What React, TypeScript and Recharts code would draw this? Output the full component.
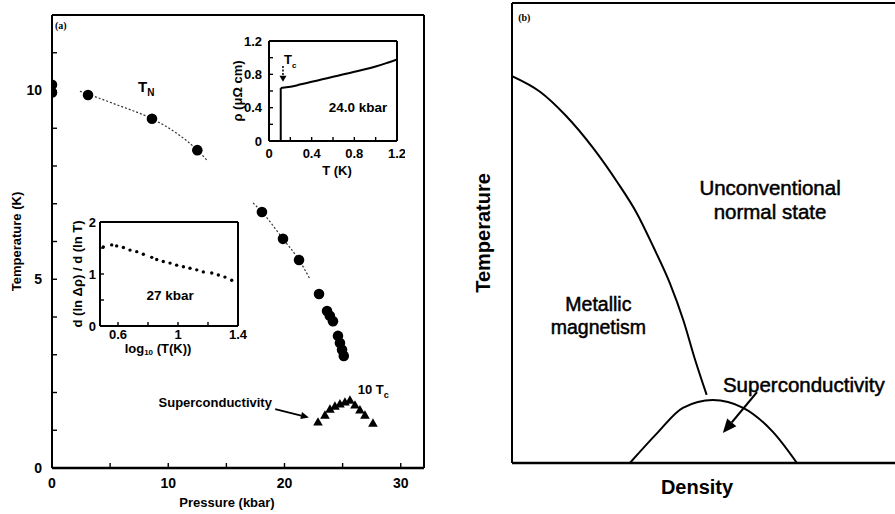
import React from "react";
import {
  ComposedChart,
  Line,
  Scatter,
  XAxis,
  YAxis,
  ReferenceDot,
  ReferenceLine,
} from "recharts";

const SANS = '"Liberation Sans", Arial, Helvetica, sans-serif';
const SERIF = '"Liberation Serif", "Times New Roman", serif';
const INK = "#000";

// ---------------------------------------------------------------------------
// Panel (a): Néel temperature and 10·Tc against pressure
// ---------------------------------------------------------------------------

const pressureTicks = [0, 5, 10, 15, 20, 25, 30];
const pressureLabels = [0, 10, 20, 30];
const tempTicks = [0, 1, 2, 3, 4, 5, 6, 7, 8, 9, 10, 11, 12];
const tempLabels = [0, 5, 10];

const neelPoints = [
  { p: 0, t: 10.15 },
  { p: 0, t: 9.95 },
  { p: 3.1, t: 9.88 },
  { p: 8.6, t: 9.25 },
  { p: 12.5, t: 8.42 },
  { p: 18.06, t: 6.78 },
  { p: 19.87, t: 6.07 },
  { p: 21.25, t: 5.51 },
  { p: 22.97, t: 4.61 },
  { p: 23.66, t: 4.16 },
  { p: 23.9, t: 4.03 },
  { p: 24.17, t: 3.89 },
  { p: 24.6, t: 3.5 },
  { p: 24.77, t: 3.31 },
  { p: 24.95, t: 3.13 },
  { p: 25.1, t: 2.97 },
];

// guide-to-the-eye curves through the T_N points
const neelFitLow = [
  { p: 2.4, t: 9.98 },
  { p: 5.5, t: 9.63 },
  { p: 8.6, t: 9.25 },
  { p: 10.8, t: 8.85 },
  { p: 12.5, t: 8.42 },
  { p: 13.3, t: 8.16 },
];
const neelFitHigh = [
  { p: 17.3, t: 7.02 },
  { p: 18.06, t: 6.78 },
  { p: 19.87, t: 6.07 },
  { p: 21.25, t: 5.51 },
  { p: 22.2, t: 5.0 },
];

const tcPoints = [
  { p: 22.88, t: 1.22 },
  { p: 23.48, t: 1.4 },
  { p: 23.91, t: 1.56 },
  { p: 24.34, t: 1.64 },
  { p: 24.77, t: 1.7 },
  { p: 25.2, t: 1.75 },
  { p: 25.63, t: 1.8 },
  { p: 26.06, t: 1.67 },
  { p: 26.49, t: 1.54 },
  { p: 26.92, t: 1.4 },
  { p: 27.61, t: 1.19 },
];

// ---------------------------------------------------------------------------
// Inset: resistivity at 24.0 kbar
// ---------------------------------------------------------------------------

const rhoTTicks = [0, 0.2, 0.4, 0.6, 0.8, 1.0, 1.2];
const rhoTLabels = [0, 0.4, 0.8, 1.2];
const rhoTicks = [0, 0.2, 0.4, 0.6, 0.8, 1.0, 1.2];
const rhoLabels = [0, 0.4, 0.8, 1.2];

// superconducting drop at Tc
const rhoStep = [
  { T: 0.11, rho: 0 },
  { T: 0.11, rho: 0.635 },
];
const rhoCurve = [
  { T: 0.11, rho: 0.635 },
  { T: 0.2, rho: 0.65 },
  { T: 0.3, rho: 0.68 },
  { T: 0.4, rho: 0.71 },
  { T: 0.5, rho: 0.74 },
  { T: 0.6, rho: 0.77 },
  { T: 0.7, rho: 0.8 },
  { T: 0.8, rho: 0.83 },
  { T: 0.9, rho: 0.86 },
  { T: 1.0, rho: 0.895 },
  { T: 1.1, rho: 0.935 },
  { T: 1.2, rho: 0.98 },
];

// ---------------------------------------------------------------------------
// Inset: logarithmic derivative at 27 kbar
// ---------------------------------------------------------------------------

const logTTicks = [0.6, 0.8, 1.0, 1.2, 1.4];
const logTLabels = [0.6, 1, 1.4];
const slopeTicks = [0, 0.5, 1, 1.5, 2];
const slopeLabels = [0, 1, 2];

const slopePoints = [
  { logT: 0.502, slope: 1.52 },
  { logT: 0.558, slope: 1.56 },
  { logT: 0.591, slope: 1.54 },
  { logT: 0.636, slope: 1.51 },
  { logT: 0.68, slope: 1.46 },
  { logT: 0.725, slope: 1.43 },
  { logT: 0.769, slope: 1.38 },
  { logT: 0.825, slope: 1.32 },
  { logT: 0.858, slope: 1.28 },
  { logT: 0.902, slope: 1.24 },
  { logT: 0.947, slope: 1.21 },
  { logT: 0.991, slope: 1.17 },
  { logT: 1.036, slope: 1.14 },
  { logT: 1.08, slope: 1.11 },
  { logT: 1.125, slope: 1.08 },
  { logT: 1.169, slope: 1.04 },
  { logT: 1.225, slope: 1.02 },
  { logT: 1.269, slope: 0.98 },
  { logT: 1.313, slope: 0.94 },
  { logT: 1.358, slope: 0.88 },
];

// ---------------------------------------------------------------------------
// Panel (b): schematic phase diagram (arbitrary units)
// ---------------------------------------------------------------------------

const magnetismLine = [
  { n: 0, temp: 0.841 },
  { n: 0.073, temp: 0.807 },
  { n: 0.138, temp: 0.757 },
  { n: 0.211, temp: 0.685 },
  { n: 0.273, temp: 0.612 },
  { n: 0.325, temp: 0.543 },
  { n: 0.368, temp: 0.47 },
  { n: 0.411, temp: 0.391 },
  { n: 0.446, temp: 0.311 },
  { n: 0.477, temp: 0.224 },
  { n: 0.507, temp: 0.148 },
];

const scDome = [
  { n: 0.307, temp: 0 },
  { n: 0.378, temp: 0.065 },
  { n: 0.445, temp: 0.12 },
  { n: 0.523, temp: 0.137 },
  { n: 0.602, temp: 0.12 },
  { n: 0.68, temp: 0.067 },
  { n: 0.742, temp: 0 },
];

// ---------------------------------------------------------------------------
// Helpers
// ---------------------------------------------------------------------------

const tickFont = (size: number) => ({
  fontSize: size,
  fontWeight: 700,
  fill: INK,
  fontFamily: SANS,
});

const only = (labels: number[]) => (v: number) =>
  labels.some((l) => Math.abs(l - v) < 1e-9) ? String(v) : "";

const frameLine = { stroke: INK, strokeWidth: 2 };
const tickLine = { stroke: INK, strokeWidth: 1.4 };

// rotated title centred on a Y axis
const yTitle = (dx: number, size: number, body: React.ReactNode) => ({
  content: ({ viewBox }: any) => {
    const x = viewBox.x + dx;
    const y = viewBox.y + viewBox.height / 2;
    return (
      <text
        x={x}
        y={y}
        transform={`rotate(-90 ${x} ${y})`}
        textAnchor="middle"
        dominantBaseline="central"
        fontFamily={SANS}
        fontWeight={700}
        fontSize={size}
        fill={INK}
      >
        {body}
      </text>
    );
  },
});

// title under an X axis
const xTitle = (dy: number, shift: number, size: number, body: React.ReactNode) => ({
  content: ({ viewBox }: any) => (
    <text
      x={viewBox.x + viewBox.width / 2 + shift}
      y={viewBox.y + dy}
      textAnchor="middle"
      dominantBaseline="central"
      fontFamily={SANS}
      fontWeight={700}
      fontSize={size}
      fill={INK}
    >
      {body}
    </text>
  ),
});

// text annotation anchored at a data point
const note =
  (body: React.ReactNode, size: number, anchor = "start", extra: any = {}) =>
  (p: any) =>
    (
      <text
        x={p.cx}
        y={p.cy}
        textAnchor={anchor}
        fontFamily={SANS}
        fontWeight={700}
        fontSize={size}
        fill={INK}
        {...extra}
      >
        {body}
      </text>
    );

// two-line centred label, first baseline at the anchor point
const twoLines =
  (first: string, second: string, size: number, gap: number, extra: any = {}) =>
  (p: any) =>
    (
      <text
        x={p.cx}
        y={p.cy}
        textAnchor="middle"
        fontFamily={SANS}
        fontSize={size}
        fill={INK}
        {...extra}
      >
        <tspan x={p.cx}>{first}</tspan>
        <tspan x={p.cx} dy={gap}>
          {second}
        </tspan>
      </text>
    );

// straight arrow with a filled head
const arrow =
  (len: number, half: number, width: number, dash?: string) => (p: any) => {
    const { x1, y1, x2, y2 } = p;
    const a = Math.atan2(y2 - y1, x2 - x1);
    const bx = x2 - len * Math.cos(a);
    const by = y2 - len * Math.sin(a);
    const ox = half * Math.sin(a);
    const oy = -half * Math.cos(a);
    return (
      <g>
        <line
          x1={x1}
          y1={y1}
          x2={bx}
          y2={by}
          stroke={INK}
          strokeWidth={width}
          strokeDasharray={dash}
        />
        <polygon
          points={`${x2},${y2} ${bx + ox},${by + oy} ${bx - ox},${by - oy}`}
          fill={INK}
        />
      </g>
    );
  };

const dotShape = (r: number) => (p: any) =>
  <circle cx={p.cx} cy={p.cy} r={r} fill={INK} />;

const triangleShape = (p: any) => {
  const s = 4.8;
  return (
    <polygon
      points={`${p.cx},${p.cy - s} ${p.cx - s},${p.cy + s * 0.75} ${p.cx + s},${p.cy + s * 0.75}`}
      fill={INK}
    />
  );
};

// ---------------------------------------------------------------------------
// Panels
// ---------------------------------------------------------------------------

function PressurePanel() {
  return (
    <ComposedChart width={450} height={514} margin={{ top: 14, right: 25, bottom: 0, left: 0 }}>
      <XAxis
        type="number"
        dataKey="p"
        domain={[0, 32]}
        ticks={pressureTicks}
        interval={0}
        allowDataOverflow
        tickFormatter={only(pressureLabels)}
        tick={tickFont(14)}
        tickSize={-5}
        tickMargin={15}
        height={46}
        axisLine={{ stroke: INK, strokeWidth: 2.6 }}
        tickLine={tickLine}
        label={xTitle(34, -11, 13, "Pressure (kbar)")}
      />
      <XAxis
        xAxisId="top"
        orientation="top"
        type="number"
        domain={[0, 32]}
        ticks={pressureTicks}
        interval={0}
        allowDataOverflow
        tick={false}
        tickSize={-5}
        height={1}
        axisLine={frameLine}
        tickLine={tickLine}
      />
      <YAxis
        type="number"
        dataKey="t"
        domain={[0, 12]}
        ticks={tempTicks}
        interval={0}
        allowDataOverflow
        tickFormatter={only(tempLabels)}
        tick={tickFont(14)}
        tickSize={-5}
        tickMargin={15}
        width={52}
        axisLine={frameLine}
        tickLine={tickLine}
        label={yTitle(16, 13, "Temperature (K)")}
      />
      <YAxis
        yAxisId="right"
        orientation="right"
        type="number"
        domain={[0, 12]}
        ticks={tempTicks}
        interval={0}
        allowDataOverflow
        tick={false}
        tickSize={-5}
        width={1}
        axisLine={frameLine}
        tickLine={tickLine}
      />

      <Line
        data={neelFitLow}
        dataKey="t"
        type="monotone"
        stroke="#333"
        strokeWidth={1.2}
        strokeDasharray="2 2"
        dot={false}
        activeDot={false}
        isAnimationActive={false}
      />
      <Line
        data={neelFitHigh}
        dataKey="t"
        type="monotone"
        stroke="#333"
        strokeWidth={1.2}
        strokeDasharray="2 2"
        dot={false}
        activeDot={false}
        isAnimationActive={false}
      />
      <Scatter data={neelPoints} shape={dotShape(5.3)} isAnimationActive={false} />
      <Scatter data={tcPoints} shape={triangleShape} isAnimationActive={false} />

      <ReferenceDot
        x={0.26}
        y={11.63}
        shape={note("(a)", 10, "start", { fontFamily: SERIF })}
      />
      <ReferenceDot
        x={7.4}
        y={9.96}
        shape={note(
          <>
            <tspan>T</tspan>
            <tspan dy={4} fontSize={10}>N</tspan>
          </>,
          15
        )}
      />
      <ReferenceDot
        x={26.3}
        y={1.96}
        shape={note(
          <>
            <tspan>10 T</tspan>
            <tspan dy={4} fontSize={9}>c</tspan>
          </>,
          13
        )}
      />
      <ReferenceDot x={18.92} y={1.62} shape={note("Superconductivity", 13, "end")} />
      <ReferenceLine
        segment={[
          { x: 19.2, y: 1.56 },
          { x: 22.1, y: 1.34 },
        ]}
        shape={arrow(8, 3.5, 1.8)}
      />
    </ComposedChart>
  );
}

function ResistivityInset() {
  return (
    <ComposedChart width={180} height={152} margin={{ top: 9, right: 7, bottom: 0, left: 0 }}>
      <XAxis
        type="number"
        dataKey="T"
        domain={[0, 1.2]}
        ticks={rhoTTicks}
        interval={0}
        allowDataOverflow
        tickFormatter={only(rhoTLabels)}
        tick={tickFont(13)}
        tickSize={-4}
        tickMargin={12}
        height={42}
        axisLine={frameLine}
        tickLine={tickLine}
        label={xTitle(29, 4, 13, "T (K)")}
      />
      <XAxis
        xAxisId="top"
        orientation="top"
        type="number"
        domain={[0, 1.2]}
        ticks={rhoTTicks}
        interval={0}
        allowDataOverflow
        tick={false}
        tickSize={-4}
        height={1}
        axisLine={frameLine}
        tickLine={tickLine}
      />
      <YAxis
        type="number"
        dataKey="rho"
        domain={[0, 1.2]}
        ticks={rhoTicks}
        interval={0}
        allowDataOverflow
        tickFormatter={only(rhoLabels)}
        tick={tickFont(13)}
        tickSize={-4}
        tickMargin={11}
        width={44}
        axisLine={frameLine}
        tickLine={tickLine}
        label={yTitle(12, 13, "ρ (μΩ cm)")}
      />
      <YAxis
        yAxisId="right"
        orientation="right"
        type="number"
        domain={[0, 1.2]}
        ticks={rhoTicks}
        interval={0}
        allowDataOverflow
        tick={false}
        tickSize={-4}
        width={1}
        axisLine={frameLine}
        tickLine={tickLine}
      />
      <Line
        data={rhoStep}
        dataKey="rho"
        type="linear"
        stroke={INK}
        strokeWidth={2}
        dot={false}
        activeDot={false}
        isAnimationActive={false}
      />
      <Line
        data={rhoCurve}
        dataKey="rho"
        type="monotone"
        stroke={INK}
        strokeWidth={2}
        dot={false}
        activeDot={false}
        isAnimationActive={false}
      />
      <ReferenceDot
        x={0.14}
        y={0.924}
        shape={note(
          <>
            <tspan>T</tspan>
            <tspan dy={4} fontSize={8}>c</tspan>
          </>,
          13
        )}
      />
      <ReferenceLine
        segment={[
          { x: 0.131, y: 0.9 },
          { x: 0.131, y: 0.71 },
        ]}
        shape={arrow(6, 3.5, 1.5, "2 1.5")}
      />
      <ReferenceDot x={0.834} y={0.348} shape={note("24.0 kbar", 13.5, "middle")} />
    </ComposedChart>
  );
}

function SlopeInset() {
  return (
    <ComposedChart width={190} height={148} margin={{ top: 9, right: 9, bottom: 0, left: 0 }}>
      <XAxis
        type="number"
        dataKey="logT"
        domain={[0.48, 1.4]}
        ticks={logTTicks}
        interval={0}
        allowDataOverflow
        tickFormatter={only(logTLabels)}
        tick={tickFont(13)}
        tickSize={-4}
        tickMargin={8}
        height={34}
        axisLine={frameLine}
        tickLine={tickLine}
        label={xTitle(22, -11, 13, (
          <>
            <tspan>log</tspan>
            <tspan dy={4} fontSize={8}>10</tspan>
            <tspan dy={-4}> (T(K))</tspan>
          </>
        ))}
      />
      <XAxis
        xAxisId="top"
        orientation="top"
        type="number"
        domain={[0.48, 1.4]}
        ticks={logTTicks}
        interval={0}
        allowDataOverflow
        tick={false}
        tickSize={-4}
        height={1}
        axisLine={frameLine}
        tickLine={tickLine}
      />
      <YAxis
        type="number"
        dataKey="slope"
        domain={[0, 2]}
        ticks={slopeTicks}
        interval={0}
        allowDataOverflow
        tickFormatter={only(slopeLabels)}
        tick={tickFont(13)}
        tickSize={-4}
        tickMargin={8}
        width={42}
        axisLine={frameLine}
        tickLine={tickLine}
        label={yTitle(19, 13, "d (ln Δρ) / d (ln T)")}
      />
      <YAxis
        yAxisId="right"
        orientation="right"
        type="number"
        domain={[0, 2]}
        ticks={slopeTicks}
        interval={0}
        allowDataOverflow
        tick={false}
        tickSize={-4}
        width={1}
        axisLine={frameLine}
        tickLine={tickLine}
      />
      <Scatter data={slopePoints} shape={dotShape(1.7)} isAnimationActive={false} />
      <ReferenceDot x={0.947} y={0.5} shape={note("27 kbar", 13.5, "middle")} />
    </ComposedChart>
  );
}

function SchematicPanel() {
  const plain = { fontWeight: 400, stroke: INK, strokeWidth: 0.5 };
  return (
    <ComposedChart width={446} height={514} margin={{ top: 2, right: 0, bottom: 0, left: 0 }}>
      <XAxis
        type="number"
        dataKey="n"
        domain={[0, 1]}
        allowDataOverflow
        tick={false}
        tickLine={false}
        height={51}
        axisLine={{ stroke: INK, strokeWidth: 2.4 }}
        label={xTitle(24, -7, 20, "Density")}
      />
      <XAxis
        xAxisId="top"
        orientation="top"
        type="number"
        domain={[0, 1]}
        allowDataOverflow
        tick={false}
        tickLine={false}
        height={1}
        axisLine={frameLine}
      />
      <YAxis
        type="number"
        dataKey="temp"
        domain={[0, 1]}
        allowDataOverflow
        tick={false}
        tickLine={false}
        width={62}
        axisLine={frameLine}
        label={yTitle(33, 20, "Temperature")}
      />
      <Line
        data={magnetismLine}
        dataKey="temp"
        type="monotone"
        stroke={INK}
        strokeWidth={2}
        dot={false}
        activeDot={false}
        isAnimationActive={false}
      />
      <Line
        data={scDome}
        dataKey="temp"
        type="monotone"
        stroke={INK}
        strokeWidth={2}
        dot={false}
        activeDot={false}
        isAnimationActive={false}
      />
      <ReferenceDot x={0.016} y={0.961} shape={note("(b)", 10, "start", { fontFamily: SERIF })} />
      <ReferenceDot
        x={0.672}
        y={0.583}
        shape={twoLines("Unconventional", "normal state", 20.5, 23.8, plain)}
      />
      <ReferenceDot
        x={0.225}
        y={0.33}
        shape={twoLines("Metallic", "magnetism", 19.5, 22.6, plain)}
      />
      <ReferenceDot x={0.76} y={0.154} shape={note("Superconductivity", 20.5, "middle", plain)} />
      <ReferenceLine
        segment={[
          { x: 0.638, y: 0.154 },
          { x: 0.549, y: 0.065 },
        ]}
        shape={arrow(14, 6, 2.2)}
      />
    </ComposedChart>
  );
}

export default function App() {
  return (
    <div
      style={{
        position: "absolute",
        left: 0,
        top: 0,
        width: 895,
        height: 514,
        overflow: "hidden",
        background: "#fff",
      }}
    >
      <div style={{ position: "absolute", left: 0, top: 0 }}>
        <PressurePanel />
      </div>
      <div style={{ position: "absolute", left: 225, top: 31 }}>
        <ResistivityInset />
      </div>
      <div style={{ position: "absolute", left: 58, top: 212 }}>
        <SlopeInset />
      </div>
      <div style={{ position: "absolute", left: 450, top: 0 }}>
        <SchematicPanel />
      </div>
    </div>
  );
}
